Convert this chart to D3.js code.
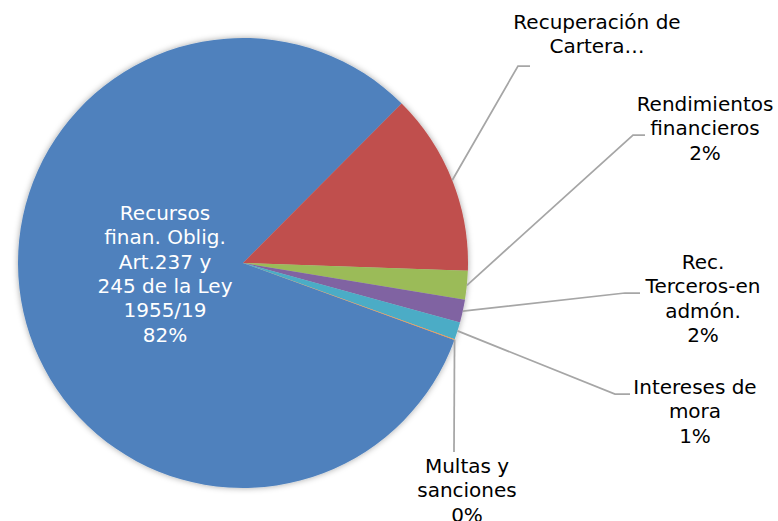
<!DOCTYPE html>
<html>
<head>
<meta charset="utf-8">
<script src="https://cdn.jsdelivr.net/npm/d3@7"></script>
<style>
  html, body { margin: 0; padding: 0; background: #fff; }
  svg { display: block; }
  text { font-family: Verdana, "DejaVu Sans", sans-serif; }
</style>
</head>
<body>
<svg id="chart" width="778" height="521"></svg>
<script>
// ---- data ----
const categories = [
  "Recursos finan. Oblig. Art.237 y 245 de la Ley 1955/19",
  "Recuperación de Cartera…",
  "Rendimientos financieros",
  "Rec. Terceros-en admón.",
  "Intereses de mora",
  "Multas y sanciones"
];
const values = [81.9, 13.1, 2.05, 1.65, 1.25, 0.05];
const labelLines = [
  ["Recursos", "finan. Oblig.", "Art.237 y", "245 de la Ley", "1955/19"],
  ["Recuperación de", "Cartera…"],
  ["Rendimientos", "financieros"],
  ["Rec.", "Terceros-en", "admón."],
  ["Intereses de", "mora"],
  ["Multas y", "sanciones"]
];
const showPercent = [true, false, true, true, true, true];
const colors = ["#4F81BD", "#C0504D", "#9BBB59", "#8064A2", "#4BACC6", "#F79646"];

// ---- layout ----
const W = 778, H = 521;
const cx = 243, cy = 263, R = 225;
const startDeg = 110;
const fontSize = 20, lineH = 24.3;

// label layout: text center x, first-line center y, leader elbow and end
const labelLayout = [
  { x: 165, y: 213, inside: true },
  { x: 597, y: 22,  elbow: [518, 66],  end: [530, 66] },
  { x: 705, y: 104, elbow: [633, 135], end: [645, 135] },
  { x: 703, y: 262, elbow: [625, 293], end: [640, 293] },
  { x: 695, y: 387, elbow: [615, 394], end: [630, 394] },
  { x: 467, y: 466, elbow: [454, 452], end: [454, 452], vertical: true }
];

const svg = d3.select("#chart");
const defs = svg.append("defs");
const f = defs.append("filter").attr("id", "shadow")
  .attr("x", "-10%").attr("y", "-10%").attr("width", "120%").attr("height", "120%");
f.append("feDropShadow").attr("dx", 0).attr("dy", 0).attr("stdDeviation", 3)
  .attr("flood-color", "#000").attr("flood-opacity", 0.35);

const total = d3.sum(values);
const pie = d3.pie().sort(null).value(d => d)
  .startAngle(startDeg * Math.PI / 180)
  .endAngle(startDeg * Math.PI / 180 + 2 * Math.PI);
const arcs = pie(values);
const arc = d3.arc().innerRadius(0).outerRadius(R);

const g = svg.append("g").attr("transform", `translate(${cx},${cy})`);
const sliceG = g.append("g").attr("filter", "url(#shadow)");
sliceG.selectAll("path").data(arcs).enter().append("path")
  .attr("d", arc)
  .attr("fill", (d, i) => colors[i]);

// leader lines
arcs.forEach((a, i) => {
  const L = labelLayout[i];
  if (L.inside) return;
  const mid = (a.startAngle + a.endAngle) / 2;
  const sx = cx + R * Math.sin(mid), sy = cy - R * Math.cos(mid);
  const pts = [[sx, sy], L.elbow, L.end];
  svg.append("path")
    .attr("d", d3.line()(pts))
    .attr("fill", "none")
    .attr("stroke", "#A6A6A6")
    .attr("stroke-width", 1.75);
});

// labels
arcs.forEach((a, i) => {
  const L = labelLayout[i];
  const lines = labelLines[i].slice();
  if (showPercent[i]) lines.push(Math.round(values[i] / total * 100) + "%");
  const t = svg.append("text")
    .attr("x", L.x)
    .attr("y", L.y)
    .attr("text-anchor", "middle")
    .attr("dominant-baseline", "central")
    .attr("font-size", fontSize)
    .attr("fill", L.inside ? "#FFFFFF" : "#000000");
  lines.forEach((ln, j) => {
    t.append("tspan").attr("x", L.x).attr("y", L.y + j * lineH).text(ln);
  });
});
</script>
</body>
</html>
